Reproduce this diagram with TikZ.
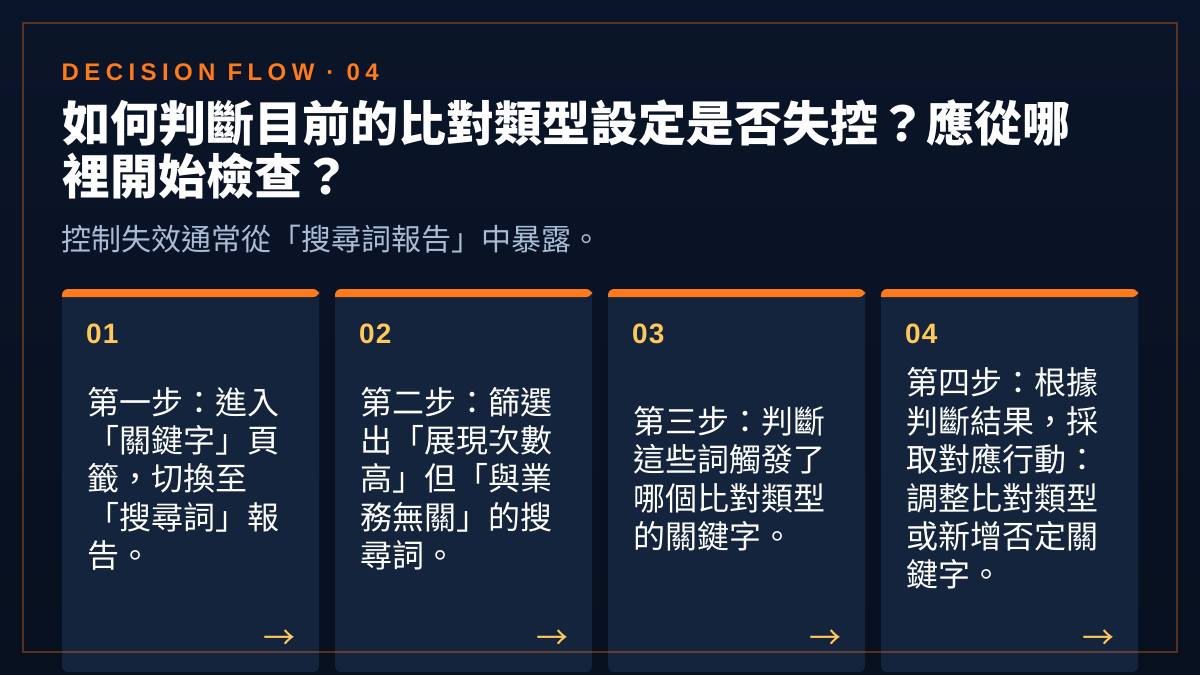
\documentclass[tikz,border=0pt]{standalone}
\usepackage{fontspec}
\setmainfont{Liberation Sans}
\newfontfamily\cjk{Noto Sans CJK TC}
\newfontfamily\headfont[LetterSpace=22.5]{Liberation Sans}
\newfontfamily\numfont[LetterSpace=4]{Liberation Sans}
\definecolor{bgtop}{HTML}{0B1529}
\definecolor{bgbot}{HTML}{07101F}
\definecolor{cardcol}{HTML}{13243C}
\definecolor{flame}{HTML}{FF7A1A}
\definecolor{gold}{HTML}{FFC85A}
\definecolor{mist}{HTML}{A9BCD6}

\begin{document}
\begin{tikzpicture}[x=1pt,y=-1pt,
  cardbox/.style={fill=cardcol,rounded corners=6},
  cardtop/.style={fill=flame},
  cardnum/.style={anchor=base west,inner sep=0,text=gold,font=\numfont\bfseries\fontsize{28}{28}\selectfont},
  cardtext/.style={anchor=base west,inner sep=0,text=white,align=left,font=\cjk\fontsize{32}{38.4}\selectfont},
  cardarrow/.style={anchor=base east,inner sep=0,text=gold,font=\cjk\fontsize{32}{32}\selectfont}]
\useasboundingbox (0,0) rectangle (1200,675);
\shade[top color=bgtop,bottom color=bgbot] (0,0) rectangle (1200,675);

\node[anchor=base west,inner sep=0,text=flame,font=\headfont\bfseries\fontsize{24}{24}\selectfont] (header) at (61.5,80) {DECISION FLOW · 04};
\node[anchor=base west,inner sep=0,text=white,font=\cjk\bfseries\fontsize{48}{52.8}\selectfont] (title) at (62,141.4) {如何判斷目前的比對類型設定是否失控？應從哪};
\node[anchor=base west,inner sep=0,text=white,font=\cjk\bfseries\fontsize{48}{52.8}\selectfont] (titlecont) at (62,194.2) {裡開始檢查？};
\node[anchor=base west,inner sep=0,text=mist,font=\cjk\fontsize{30}{36}\selectfont] (subtitle) at (61,250.5) {控制失效通常從「搜尋詞報告」中暴露。};

\fill[cardbox] (62,289) rectangle (319,672);
\fill[cardtop] (62,297) [rounded corners=6] |- (190,289) -| (319,297) [sharp corners] -- cycle;
\fill[cardbox] (335,289) rectangle (592,672);
\fill[cardtop] (335,297) [rounded corners=6] |- (460,289) -| (592,297) [sharp corners] -- cycle;
\fill[cardbox] (608,289) rectangle (865,672);
\fill[cardtop] (608,297) [rounded corners=6] |- (730,289) -| (865,297) [sharp corners] -- cycle;
\fill[cardbox] (881,289) rectangle (1138,672);
\fill[cardtop] (881,297) [rounded corners=6] |- (1000,289) -| (1138,297) [sharp corners] -- cycle;

\node[cardnum] (num1) at (86,343) {01};
\node[cardnum] (num2) at (359,343) {02};
\node[cardnum] (num3) at (632,343) {03};
\node[cardnum] (num4) at (905,343) {04};

\node[cardtext] (step1) at (87,567.6) {第一步：進入\\「關鍵字」頁\\籤，切換至\\「搜尋詞」報\\告。};
\node[cardtext] (step2) at (360,567.6) {第二步：篩選\\出「展現次數\\高」但「與業\\務無關」的搜\\尋詞。};
\node[cardtext] (step3) at (633,548.4) {第三步：判斷\\這些詞觸發了\\哪個比對類型\\的關鍵字。};
\node[cardtext] (step4) at (906,586.8) {第四步：根據\\判斷結果，採\\取對應行動：\\調整比對類型\\或新增否定關\\鍵字。};

\node[cardarrow] (arrow1) at (296,649) {→};
\node[cardarrow] (arrow2) at (569,649) {→};
\node[cardarrow] (arrow3) at (842,649) {→};
\node[cardarrow] (arrow4) at (1115,649) {→};

\draw[flame,draw opacity=0.32,line width=2] (23,23) rectangle (1177,651.7);
\end{tikzpicture}
\end{document}
